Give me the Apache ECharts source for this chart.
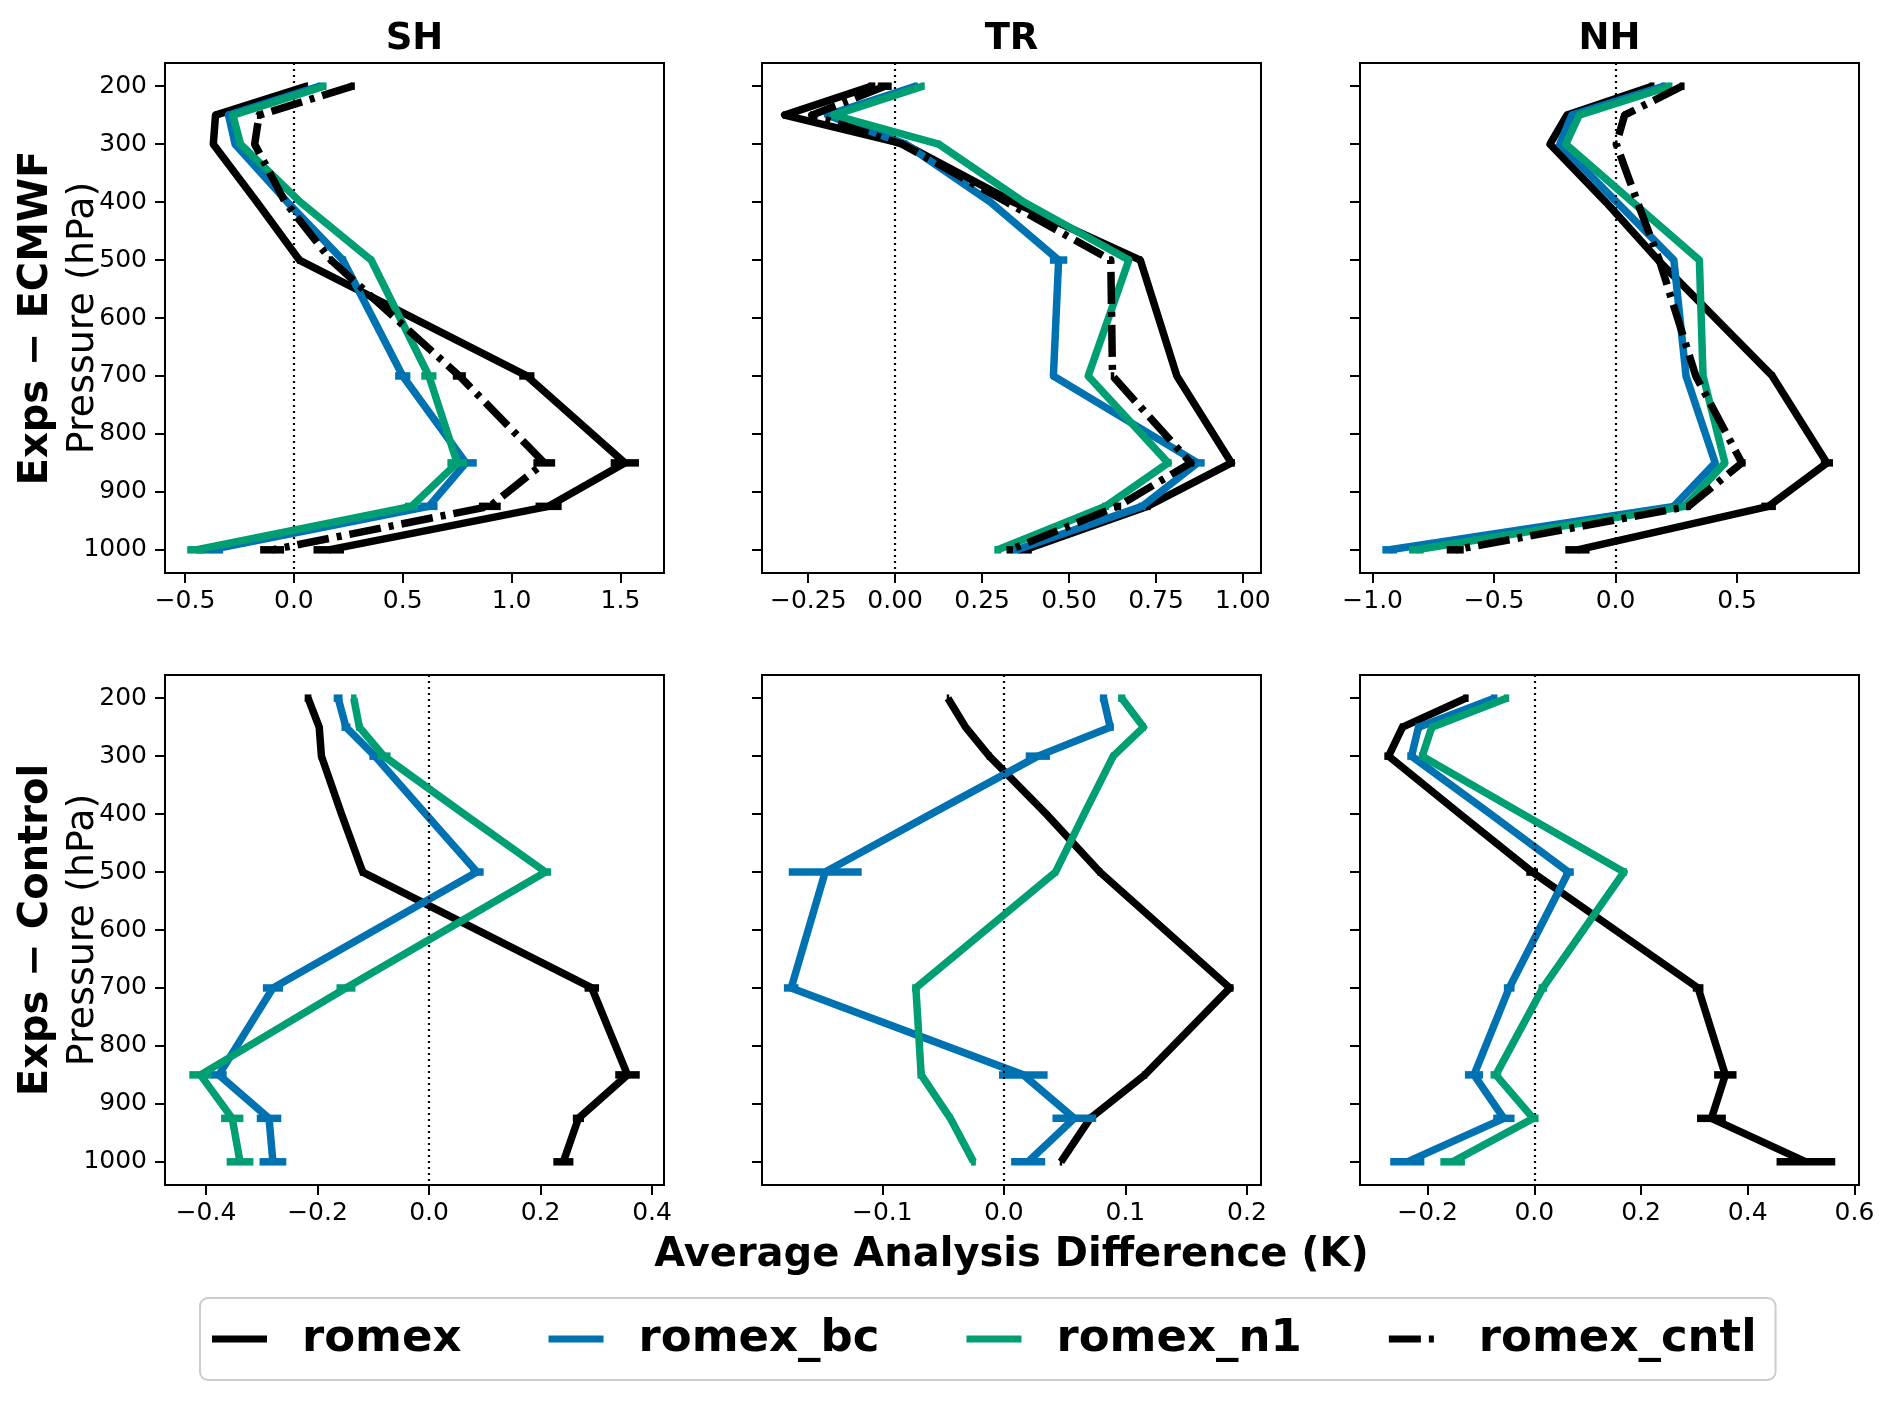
<!DOCTYPE html>
<html>
<head>
<meta charset="utf-8">
<script src="https://cdn.jsdelivr.net/npm/echarts@6/dist/echarts.min.js"></script>
<style>
  html, body { margin: 0; padding: 0; background: #fff; }
  #container { width: 1892px; height: 1401px; }
</style>
</head>
<body>
<div id="container"></div>
<script>
// pressure levels (hPa), shared by every panel
var levels = [200, 250, 300, 400, 500, 700, 850, 925, 1000];
var expNames = ['romex', 'romex_bc', 'romex_n1', 'romex_cntl'];
var expColors = ['#000000', '#0072B2', '#009E73', '#000000'];
var regionNames = ['SH', 'TR', 'NH'];
var rowNames = ['Exps \u2212 ECMWF', 'Exps \u2212 Control'];

// Exps - ECMWF, rows in order romex, romex_bc, romex_n1, romex_cntl
var ecmwfSH = [
    [0.06, -0.36, -0.37, -0.17, 0.025, 1.07, 1.52, 1.17, 0.16],
    [0.12, -0.30, -0.27, -0.03, 0.225, 0.50, 0.79, 0.62, -0.385],
    [0.14, -0.28, -0.245, 0.03, 0.355, 0.62, 0.75, 0.54, -0.45],
    [0.27, -0.16, -0.18, -0.04, 0.17, 0.76, 1.15, 0.90, -0.10]
];
var ecmwfSHErr = [
    [0.005, 0.005, 0.005, 0, 0.01, 0.035, 0.065, 0.06, 0.07],
    [0.01, 0.01, 0.01, 0, 0.015, 0.035, 0.05, 0.04, 0.06],
    [0.01, 0.01, 0.01, 0, 0.01, 0.035, 0.045, 0.03, 0.04],
    [0.01, 0.01, 0.01, 0, 0.01, 0.03, 0.05, 0.05, 0.055]
];
var ecmwfTR = [
    [-0.067, -0.318, 0.026, 0.34, 0.705, 0.81, 0.967, 0.725, 0.373],
    [0.06, -0.195, 0.03, 0.274, 0.47, 0.455, 0.87, 0.71, 0.35],
    [0.08, -0.177, 0.125, 0.37, 0.672, 0.555, 0.785, 0.605, 0.295],
    [-0.03, -0.24, 0.02, 0.32, 0.62, 0.625, 0.85, 0.64, 0.33]
];
var ecmwfTRErr = [
    [0.01, 0.005, 0.005, 0, 0.005, 0.005, 0.01, 0.01, 0.02],
    [0.005, 0.005, 0.005, 0, 0.025, 0.005, 0.02, 0.01, 0.01],
    [0.005, 0.005, 0.005, 0, 0.005, 0.005, 0.01, 0.01, 0.01],
    [0.02, 0.005, 0.005, 0, 0.005, 0.005, 0.01, 0.01, 0.01]
];
var ecmwfNH = [
    [0.15, -0.20, -0.27, -0.04, 0.175, 0.645, 0.87, 0.63, -0.157],
    [0.20, -0.18, -0.23, 0.005, 0.24, 0.29, 0.41, 0.24, -0.93],
    [0.224, -0.15, -0.205, 0.07, 0.345, 0.36, 0.45, 0.285, -0.82],
    [0.274, 0.037, 0.003, 0.09, 0.18, 0.33, 0.52, 0.30, -0.66]
];
var ecmwfNHErr = [
    [0.01, 0.005, 0.005, 0, 0.005, 0.01, 0.025, 0.03, 0.05],
    [0.01, 0.005, 0.005, 0, 0.005, 0.01, 0.01, 0.01, 0.03],
    [0.01, 0.005, 0.005, 0, 0.005, 0.01, 0.01, 0.01, 0.03],
    [0.01, 0.005, 0.005, 0, 0.005, 0.01, 0.015, 0.01, 0.035]
];

// Exps - Control, rows in order romex, romex_bc, romex_n1
var ctrlSH = [
    [-0.217, -0.197, -0.193, -0.157, -0.119, 0.292, 0.356, 0.268, 0.241],
    [-0.163, -0.149, -0.097, -0.006, 0.086, -0.28, -0.377, -0.287, -0.28],
    [-0.135, -0.125, -0.081, 0.063, 0.209, -0.149, -0.41, -0.353, -0.339]
];
var ctrlSHErr = [
    [0.006, 0.005, 0.005, 0, 0.005, 0.013, 0.022, 0.01, 0.018],
    [0.008, 0.008, 0.01, 0, 0.012, 0.018, 0.014, 0.022, 0.024],
    [0.005, 0.006, 0.012, 0, 0.01, 0.017, 0.02, 0.02, 0.024]
];
var ctrlTR = [
    [-0.046, -0.0315, -0.012, 0.035, 0.079, 0.186, 0.116, 0.071, 0.047],
    [0.082, 0.0875, 0.028, -0.06, -0.147, -0.175, 0.016, 0.058, 0.02],
    [0.097, 0.115, 0.09, 0.066, 0.0425, -0.0724, -0.068, -0.044, -0.025]
];
var ctrlTRErr = [
    [0.001, 0.001, 0.002, 0, 0.002, 0.003, 0.002, 0.002, 0.001],
    [0.003, 0.003, 0.01, 0, 0.03, 0.006, 0.02, 0.018, 0.014],
    [0.003, 0.002, 0.002, 0, 0.002, 0.003, 0.003, 0.002, 0.002]
];
var ctrlNH = [
    [-0.128, -0.247, -0.273, -0.139, -0.004, 0.307, 0.358, 0.332, 0.509],
    [-0.075, -0.217, -0.23, -0.082, 0.064, -0.047, -0.113, -0.057, -0.238],
    [-0.052, -0.192, -0.21, -0.022, 0.168, 0.016, -0.072, -0.002, -0.153]
];
var ctrlNHErr = [
    [0.005, 0.005, 0.008, 0, 0.011, 0.01, 0.021, 0.027, 0.055],
    [0.006, 0.006, 0.008, 0, 0.01, 0.01, 0.017, 0.02, 0.032],
    [0.005, 0.006, 0.006, 0, 0.006, 0.008, 0.01, 0.01, 0.023]
];

// tick values and their labels
var yTicks = [200, 300, 400, 500, 600, 700, 800, 900, 1000];
var xTicksEcmwfSH = [-0.5, 0, 0.5, 1, 1.5];
var xLabelsEcmwfSH = ['\u22120.5', '0.0', '0.5', '1.0', '1.5'];
var xTicksEcmwfTR = [-0.25, 0, 0.25, 0.5, 0.75, 1];
var xLabelsEcmwfTR = ['\u22120.25', '0.00', '0.25', '0.50', '0.75', '1.00'];
var xTicksEcmwfNH = [-1, -0.5, 0, 0.5];
var xLabelsEcmwfNH = ['\u22121.0', '\u22120.5', '0.0', '0.5'];
var xTicksCtrlSH = [-0.4, -0.2, 0, 0.2, 0.4];
var xLabelsCtrlSH = ['\u22120.4', '\u22120.2', '0.0', '0.2', '0.4'];
var xTicksCtrlTR = [-0.1, 0, 0.1, 0.2];
var xLabelsCtrlTR = ['\u22120.1', '0.0', '0.1', '0.2'];
var xTicksCtrlNH = [-0.2, 0, 0.2, 0.4, 0.6];
var xLabelsCtrlNH = ['\u22120.2', '0.0', '0.2', '0.4', '0.6'];

var panels = [
    { row: 0, col: 0, vals: ecmwfSH, errs: ecmwfSHErr, min: -0.592, max: 1.70, ticks: xTicksEcmwfSH, labels: xLabelsEcmwfSH },
    { row: 0, col: 1, vals: ecmwfTR, errs: ecmwfTRErr, min: -0.383, max: 1.052, ticks: xTicksEcmwfTR, labels: xLabelsEcmwfTR },
    { row: 0, col: 2, vals: ecmwfNH, errs: ecmwfNHErr, min: -1.052, max: 1.002, ticks: xTicksEcmwfNH, labels: xLabelsEcmwfNH },
    { row: 1, col: 0, vals: ctrlSH, errs: ctrlSHErr, min: -0.4736, max: 0.4215, ticks: xTicksCtrlSH, labels: xLabelsCtrlSH },
    { row: 1, col: 1, vals: ctrlTR, errs: ctrlTRErr, min: -0.199, max: 0.2116, ticks: xTicksCtrlTR, labels: xLabelsCtrlTR },
    { row: 1, col: 2, vals: ctrlNH, errs: ctrlNHErr, min: -0.3266, max: 0.6085, ticks: xTicksCtrlNH, labels: xLabelsCtrlNH }
];

// layout (px)
var colLeft = [165, 762, 1360];
var rowTop = [63, 675];
var panelW = 499;
var panelH = 510;
var font = 'DejaVu Sans';
var lw = 7.5;
var dashDot = [32, 8, 5, 8];

// legend handles: a solid bar, and a dash + dot for romex_cntl
var solidIcon = 'path://M0,0H55V7H0Z';
var dashDotIcon = 'path://M0,0H32V7H0Z M40,0H45V7H40Z M55,0L55,7Z';

var dom = document.getElementById('container');
var myChart = echarts.init(dom);

function labelFor(ticks, labels) {
    return function (v) {
        for (var i = 0; i < ticks.length; i++) {
            if (Math.abs(ticks[i] - v) < 1e-9) return labels[i];
        }
        return '';
    };
}

var grids = [], xAxes = [], yAxes = [], lineSeries = [], errSeries = [];

panels.forEach(function (p, k) {
    grids.push({
        left: colLeft[p.col], top: rowTop[p.row], width: panelW, height: panelH,
        show: true, borderColor: '#000', borderWidth: 2, backgroundColor: 'transparent'
    });
    xAxes.push({
        gridIndex: k, type: 'value', min: p.min, max: p.max,
        axisLine: { show: true, onZero: false, lineStyle: { color: '#000', width: 2 } },
        axisTick: { show: true, customValues: p.ticks, length: 10, lineStyle: { color: '#000', width: 2 } },
        axisLabel: {
            customValues: p.ticks, formatter: labelFor(p.ticks, p.labels),
            fontSize: 25, fontFamily: font, color: '#000', margin: 16
        },
        splitLine: { show: false }
    });
    yAxes.push({
        gridIndex: k, type: 'value', inverse: true, min: 160, max: 1040,
        axisLine: { show: true, onZero: false, lineStyle: { color: '#000', width: 2 } },
        axisTick: { show: true, customValues: yTicks, length: 10, lineStyle: { color: '#000', width: 2 } },
        axisLabel: {
            show: p.col === 0, customValues: yTicks,
            formatter: function (v) { return String(v); },
            fontSize: 25, fontFamily: font, color: '#000', margin: 18
        },
        splitLine: { show: false }
    });

    p.vals.forEach(function (vals, i) {
        var color = expColors[i];
        var s = {
            type: 'line', name: expNames[i], xAxisIndex: k, yAxisIndex: k,
            data: levels.map(function (lev, j) { return [vals[j], lev]; }),
            symbol: 'none', z: 3 + i, animation: false,
            itemStyle: { color: color },
            lineStyle: { color: color, width: lw, type: i === 3 ? dashDot : 'solid', cap: 'butt', join: 'round' }
        };
        if (i === 0) {
            // dotted zero line
            s.markLine = {
                silent: true, symbol: ['none', 'none'], animation: false,
                label: { show: false },
                lineStyle: { color: '#000', width: 2.2, type: [2, 4] },
                data: [{ xAxis: 0 }]
            };
        }
        lineSeries.push(s);

        var errs = p.errs[i];
        errSeries.push({
            type: 'custom', name: expNames[i], xAxisIndex: k, yAxisIndex: k,
            z: 3 + i, animation: false,
            data: levels.map(function (lev, j) { return [vals[j], lev, errs[j]]; }),
            encode: { x: 0, y: 1 },
            renderItem: function (params, api) {
                var x = api.value(0), y = api.value(1), e = api.value(2);
                if (!e) return null;
                var a = api.coord([x - e, y]);
                var b = api.coord([x + e, y]);
                return {
                    type: 'line',
                    shape: { x1: a[0], y1: a[1], x2: b[0], y2: b[1] },
                    style: { stroke: color, lineWidth: lw }
                };
            }
        });
    });
});

var graphics = [];
regionNames.forEach(function (r, c) {
    graphics.push({
        type: 'text', x: colLeft[c] + panelW / 2, y: 39,
        style: { text: r, font: 'bold 37px "DejaVu Sans"', fill: '#000', textAlign: 'center', textVerticalAlign: 'middle', align: 'center', verticalAlign: 'middle' }
    });
});
rowNames.forEach(function (name, r) {
    var cy = rowTop[r] + panelH / 2;
    graphics.push({
        type: 'text', x: 37, y: cy, rotation: Math.PI / 2,
        style: { text: name, font: 'bold 40px "DejaVu Sans"', fill: '#000', textAlign: 'center', textVerticalAlign: 'middle', align: 'center', verticalAlign: 'middle' }
    });
    graphics.push({
        type: 'text', x: 83, y: cy, rotation: Math.PI / 2,
        style: { text: 'Pressure (hPa)', font: '38px "DejaVu Sans"', fill: '#000', textAlign: 'center', textVerticalAlign: 'middle', align: 'center', verticalAlign: 'middle' }
    });
});
graphics.push({
    type: 'text', x: colLeft[1] + panelW / 2, y: 1256,
    style: { text: 'Average Analysis Difference (K)', font: 'bold 40px "DejaVu Sans"', fill: '#000', textAlign: 'center', textVerticalAlign: 'middle', align: 'center', verticalAlign: 'middle' }
});

myChart.setOption({
    backgroundColor: '#fff',
    animation: false,
    grid: grids,
    xAxis: xAxes,
    yAxis: yAxes,
    legend: {
        data: [
            { name: 'romex', icon: solidIcon },
            { name: 'romex_bc', icon: solidIcon },
            { name: 'romex_n1', icon: solidIcon },
            { name: 'romex_cntl', icon: dashDotIcon }
        ],
        left: 200, top: 1298,
        padding: [16, 19, 16, 12],
        itemWidth: 55, itemHeight: 7, itemGap: 87,
        borderColor: '#cccccc', borderWidth: 2, borderRadius: 8,
        backgroundColor: '#fff',
        selectedMode: false,
        textStyle: { fontSize: 45, fontWeight: 'bold', fontFamily: font, color: '#000', padding: [0, 0, 0, 30], lineHeight: 50 }
    },
    graphic: graphics,
    series: lineSeries.concat(errSeries)
});

window.addEventListener('resize', function () {
    myChart.resize();
});
</script>
</body>
</html>
